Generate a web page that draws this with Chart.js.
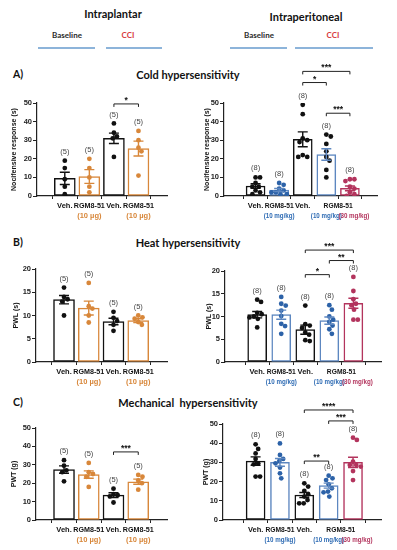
<!DOCTYPE html>
<html>
<head>
<meta charset="utf-8">
<script src="https://cdn.jsdelivr.net/npm/chart.js@4.4.1/dist/chart.umd.min.js"></script>
<style>
  body { margin: 0; background: #fff; }
  #page { position: relative; width: 397px; height: 550px; overflow: hidden; font-family: Lato, "Open Sans", sans-serif; }
  .box { position: absolute; }
  .txt { position: absolute; font-weight: bold; white-space: nowrap; transform: translate(-50%, -50%); color: #111; }
  .rule { position: absolute; height: 1.5px; background: #8db4da; }
</style>
</head>
<body>
<div id="page">
  <div class="txt" style="left:113px;top:13px;font-size:11px;">Intraplantar</div>
  <div class="txt" style="left:306px;top:16px;font-size:11px;">Intraperitoneal</div>
  <div class="txt" style="left:67px;top:35px;font-size:8px;color:#2a2a2a;">Baseline</div>
  <div class="txt" style="left:128px;top:35px;font-size:8px;color:#d8383c;">CCI</div>
  <div class="txt" style="left:259px;top:35px;font-size:8px;color:#2a2a2a;">Baseline</div>
  <div class="txt" style="left:333px;top:35px;font-size:8px;color:#d8383c;">CCI</div>
  <div class="rule" style="left:38px;top:47px;width:57px;"></div>
  <div class="rule" style="left:106px;top:47px;width:56px;"></div>
  <div class="rule" style="left:230px;top:47px;width:57px;"></div>
  <div class="rule" style="left:295px;top:47px;width:78px;"></div>
  <div class="txt" style="left:18px;top:74px;font-size:10.5px;">A)</div>
  <div class="txt" style="left:188px;top:74px;font-size:11px;">Cold hypersensitivity</div>
  <div class="txt" style="left:18px;top:242px;font-size:10.5px;">B)</div>
  <div class="txt" style="left:188px;top:242px;font-size:11px;">Heat hypersensitivity</div>
  <div class="txt" style="left:18px;top:402px;font-size:10.5px;">C)</div>
  <div class="txt" style="left:188px;top:402px;font-size:11px;">Mechanical&nbsp; hypersensitivity</div>
</div>
<script>
// categories
const iplCats = ["Veh.", "RGM8-51", "Veh.", "RGM8-51"];
const iplDoses = ["", "(10 µg)", "", "(10 µg)"];
const iplN = [5, 5, 5, 5];
const ipCats = ["Veh.", "RGM8-51", "Veh.", "RGM8-51", "RGM8-51"];
const ipDoses = ["", "(10 mg/kg)", "", "(10 mg/kg)", "(30 mg/kg)"];
const ipN = [8, 8, 8, 8, 8];

// A) cold
const coldIplPts = [[19, 15, 9, 5, 1], [20, 15, 10, 5, 2], [39, 34, 32, 31, 21], [35, 30, 26, 24, 11]];
const coldIplMean = [9.5, 10.5, 31, 25.5];
const coldIplSem = [3.3, 3.7, 2.8, 4];
const coldIplSig = [[2, 3, 49.5, "*"]];
const coldIpPts = [[10, 10, 7, 5, 5, 3, 2, 1], [7, 6, 4, 3, 2, 2, 1, 1], [49, 44, 31, 30, 29, 22, 21, 21], [33, 32, 28, 24, 21, 19, 14, 10], [9, 9, 8, 5, 4, 2, 1, 0]];
const coldIpMean = [5.4, 3.2, 30.5, 22.3, 4.1];
const coldIpSem = [1.2, 0.8, 4, 3.1, 1.3];
const coldIpSig = [[2, 4, 67, "***"], [2, 3, 61, "*"], [3, 4, 44.5, "***"]];

// B) heat
const heatIplPts = [[16, 14, 13.5, 13, 10], [17, 12, 11.5, 10, 8.5], [10.8, 9.5, 8.8, 8, 6.7], [10, 9.6, 9.3, 8.6, 8]];
const heatIplMean = [13.4, 11.6, 8.7, 8.9];
const heatIplSem = [0.9, 1.5, 0.7, 0.4];
const heatIplSig = [];
const heatIpPts = [[13.7, 13.2, 10.8, 10.5, 10, 9.8, 9.5, 7.6], [14.3, 12.8, 12.4, 11.3, 10.1, 8.4, 7.9, 6.2], [12.4, 8.3, 8, 7.5, 6.5, 6, 4.8, 4.6], [12.5, 11.5, 10, 9.3, 8.8, 8, 7.2, 6.2], [18.7, 15.6, 13.8, 12.8, 12.5, 11.5, 9.3, 9.3]];
const heatIpMean = [10.4, 10.4, 7.1, 9.1, 12.9];
const heatIpSem = [0.7, 1, 1, 0.8, 1.1];
const heatIpSig = [[2, 4, 24.6, "***"], [3, 4, 22.3, "**"], [2, 3, 19.2, "*"]];

// C) mechanical
const mechIplPts = [[32.5, 29.5, 27, 26, 21], [31, 26, 25, 23.5, 18], [17, 14, 13.5, 12.8, 9.5], [24.5, 23.5, 21.5, 20, 16.5]];
const mechIplMean = [27.4, 24.7, 13.5, 20.8];
const mechIplSem = [2, 2, 1.3, 1.4];
const mechIplSig = [[2, 3, 37, "***"]];
const mechIpPts = [[39.4, 37, 34.7, 31.8, 29.5, 29, 22.6, 22.6], [39.9, 33.9, 31.8, 30.7, 29.5, 27.3, 24.3, 21.7], [19.1, 17.4, 15.1, 13.4, 12.2, 10.4, 8.7, 8.7], [23.1, 21.7, 20.8, 18.6, 16.5, 14.8, 14.4, 12.2], [42.9, 41.7, 30.4, 28.6, 28.6, 27.8, 25.5, 20.8]];
const mechIpMean = [30.7, 30, 13, 17.9, 30];
const mechIpSem = [2.2, 2, 1.3, 1.3, 2.7];
const mechIpSig = [[2, 4, 57.3, "****"], [3, 4, 51.6, "***"], [2, 3, 30.7, "**"]];

const ORANGE = "#d8873a", BLUE = "#5d87c0", BLUEDOT = "#2c62a8", CRIMSON = "#b3345d", BLK = "#111";
const FONT = "'Liberation Sans', Arial, sans-serif";
const iplColors = [BLK, ORANGE, BLK, ORANGE];
const ipColors = [BLK, BLUE, BLK, BLUE, CRIMSON];
const ipDoseColors = [BLK, "#2f6cb4", BLK, "#2f6cb4", CRIMSON];

// spread the dots like a small beeswarm (pixel space)
function swarm(vals, pxY, r) {
  const placed = [];
  const out = new Array(vals.length).fill(0);
  const order = vals.map((v, i) => i).sort((a, b) => vals[b] - vals[a]);
  order.forEach(i => {
    const py = vals[i] * pxY;
    let best = 0;
    for (let k = 0; k < 40; k++) {
      const cands = k === 0 ? [0] : [k * 0.8, -k * 0.8];
      const ok = cands.find(dx => placed.every(p => Math.hypot(p.x - dx, p.y - py) >= 2 * r + 0.4));
      if (ok !== undefined) { best = ok; break; }
    }
    placed.push({ x: best, y: py });
    out[i] = best;
  });
  return out;
}

function makePanel(p) {
  const wrap = document.createElement("div");
  wrap.className = "box";
  wrap.style.left = p.box[0] + "px";
  wrap.style.top = p.box[1] + "px";
  wrap.style.width = (p.box[2] - p.box[0]) + "px";
  wrap.style.height = (p.box[3] - p.box[1]) + "px";
  const cv = document.createElement("canvas");
  wrap.appendChild(cv);
  document.getElementById("page").appendChild(wrap);

  const [pl, pt, pr, pb] = p.plot;
  const pxX = (pr - pl) / (p.xr[1] - p.xr[0]);
  const pxY = (pb - pt) / p.yMax;
  const dots = [];
  const dotColors = [];
  p.pts.forEach((grp, i) => {
    const off = swarm(grp, pxY, 2.4);
    grp.forEach((v, j) => {
      dots.push({ x: i + off[j] / pxX, y: v });
      dotColors.push(p.dotColors[i]);
    });
  });

  const extras = {
    id: "extras",
    afterDatasetsDraw(chart) {
      const { ctx, scales: { x, y } } = chart;
      ctx.save();
      // error bars
      ctx.lineWidth = 1.4;
      p.mean.forEach((m, i) => {
        const cx = x.getPixelForValue(i);
        const yt = y.getPixelForValue(m + p.sem[i]);
        const yb = y.getPixelForValue(Math.max(0, m - p.sem[i]));
        ctx.strokeStyle = p.colors[i];
        ctx.beginPath();
        ctx.moveTo(cx, yt); ctx.lineTo(cx, yb);
        ctx.moveTo(cx - 5, yt); ctx.lineTo(cx + 5, yt);
        ctx.moveTo(cx - 5, yb); ctx.lineTo(cx + 5, yb);
        ctx.stroke();
      });
      // n labels
      ctx.fillStyle = "#444";
      ctx.font = "7.5px " + FONT;
      ctx.textAlign = "center";
      ctx.textBaseline = "middle";
      p.n.forEach((n, i) => {
        const top = Math.max(...p.pts[i], p.mean[i] + p.sem[i]);
        ctx.fillText("(" + n + ")", x.getPixelForValue(i), y.getPixelForValue(top) - 9);
      });
      // significance brackets
      ctx.strokeStyle = "#222";
      ctx.fillStyle = "#111";
      ctx.lineWidth = 1;
      p.sig.forEach(([a, b, lvl, txt]) => {
        const x1 = x.getPixelForValue(a), x2 = x.getPixelForValue(b), yy = y.getPixelForValue(lvl);
        ctx.beginPath();
        ctx.moveTo(x1, yy + 3); ctx.lineTo(x1, yy); ctx.lineTo(x2, yy); ctx.lineTo(x2, yy + 3);
        ctx.stroke();
        ctx.font = "bold 8.5px " + FONT;
        ctx.textBaseline = "alphabetic";
        ctx.fillText(txt, (x1 + x2) / 2, yy - 1);
      });
      // x labels
      const base = chart.chartArea.bottom;
      ctx.textBaseline = "middle";
      p.cats.forEach((c, i) => {
        if (i > 2 && p.cats[i - 1] === c) return;
        let cx = x.getPixelForValue(i);
        if (i > 2 && p.cats[i + 1] === c) cx = (cx + x.getPixelForValue(i + 1)) / 2;
        ctx.fillStyle = "#111";
        ctx.font = "bold 7.5px " + FONT;
        ctx.fillText(c, cx, base + 10, p.barW + 10);
      });
      p.doses.forEach((d, i) => {
        if (!d) return;
        ctx.fillStyle = p.doseColors[i];
        ctx.font = "bold 7.5px " + FONT;
        ctx.fillText(d, x.getPixelForValue(i) + (i === 4 ? 4 : 0), base + 20, 31);
      });
      // y title
      ctx.translate(p.titleX - p.box[0], (pt + pb) / 2 - p.box[1]);
      ctx.rotate(-Math.PI / 2);
      ctx.fillStyle = "#111";
      ctx.font = "bold 7px " + FONT;
      ctx.fillText(p.yTitle, 0, 0);
      ctx.restore();
    }
  };

  new Chart(cv, {
    type: "bar",
    data: {
      datasets: [{
        type: "scatter",
        data: dots,
        pointRadius: 2.4,
        pointBackgroundColor: dotColors,
        pointBorderWidth: 0,
        order: 1
      }, {
        type: "bar",
        data: p.mean.map((m, i) => ({ x: i, y: m })),
        backgroundColor: "rgba(255,255,255,1)",
        borderColor: p.colors,
        borderWidth: 1.5,
        borderSkipped: false,
        barThickness: p.barW,
        order: 2
      }]
    },
    options: {
      responsive: true,
      maintainAspectRatio: false,
      animation: false,
      layout: { padding: { top: pt - p.box[1], right: p.box[2] - pr, left: 0, bottom: 0 } },
      plugins: { legend: { display: false }, tooltip: { enabled: false } },
      scales: {
        x: {
          type: "linear",
          min: p.xr[0],
          max: p.xr[1],
          afterBuildTicks: s => { s.ticks = p.cats.map((c, i) => ({ value: i })); },
          afterFit: s => { s.height = p.box[3] - pb; },
          ticks: { display: false },
          grid: { drawOnChartArea: false, drawTicks: true, tickLength: 3, color: "#222" },
          border: { color: "#222", width: 1.2 }
        },
        y: {
          min: 0,
          max: p.yMax,
          afterFit: s => { s.width = pl - p.box[0]; },
          ticks: { stepSize: p.yStep, padding: 1, color: "#222", font: { family: FONT, size: 7.5, weight: "bold" } },
          grid: { drawOnChartArea: false, drawTicks: true, tickLength: 4, color: "#222" },
          border: { color: "#222", width: 1.2 }
        }
      }
    },
    plugins: [extras]
  });
}

const iplSetup = { cats: iplCats, doses: iplDoses, n: iplN, colors: iplColors, dotColors: iplColors, doseColors: iplColors, xr: [-0.47, 3.5], barW: 21 };
const ipSetup = { cats: ipCats, doses: ipDoses, n: ipN, colors: ipColors, doseColors: ipDoseColors, xr: [-0.69, 4.5], barW: 19 };

makePanel(Object.assign({}, iplSetup, { box: [0, 56, 190, 225], plot: [37, 103, 167, 196], titleX: 14, yMax: 50, yStep: 10, yTitle: "Nocifensive response (s)", pts: coldIplPts, mean: coldIplMean, sem: coldIplSem, sig: coldIplSig }));
makePanel(Object.assign({}, ipSetup, { box: [193, 56, 397, 225], plot: [224, 103, 377, 196], titleX: 207, yMax: 50, yStep: 10, yTitle: "Nocifensive response (s)", pts: coldIpPts, mean: coldIpMean, sem: coldIpSem, sig: coldIpSig, dotColors: [BLK, BLUEDOT, BLK, BLK, CRIMSON] }));
makePanel(Object.assign({}, iplSetup, { box: [0, 236, 190, 392], plot: [36, 269, 167, 362], titleX: 16, yMax: 20, yStep: 5, yTitle: "PWL (s)", pts: heatIplPts, mean: heatIplMean, sem: heatIplSem, sig: heatIplSig }));
makePanel(Object.assign({}, ipSetup, { box: [193, 236, 397, 392], plot: [225, 271, 381, 362], titleX: 209, yMax: 20, yStep: 5, yTitle: "PWL (s)", pts: heatIpPts, mean: heatIpMean, sem: heatIpSem, sig: heatIpSig, dotColors: [BLK, BLUEDOT, BLK, BLUEDOT, CRIMSON] }));
makePanel(Object.assign({}, iplSetup, { box: [0, 398, 190, 550], plot: [36, 428, 167, 520], titleX: 14, yMax: 50, yStep: 10, yTitle: "PWT (g)", pts: mechIplPts, mean: mechIplMean, sem: mechIplSem, sig: mechIplSig }));
makePanel(Object.assign({}, ipSetup, { box: [193, 398, 397, 550], plot: [223, 424, 381, 520], titleX: 206, yMax: 50, yStep: 10, yTitle: "PWT (g)", pts: mechIpPts, mean: mechIpMean, sem: mechIpSem, sig: mechIpSig, dotColors: [BLK, BLUEDOT, BLK, BLUEDOT, CRIMSON] }));
</script>
</body>
</html>
